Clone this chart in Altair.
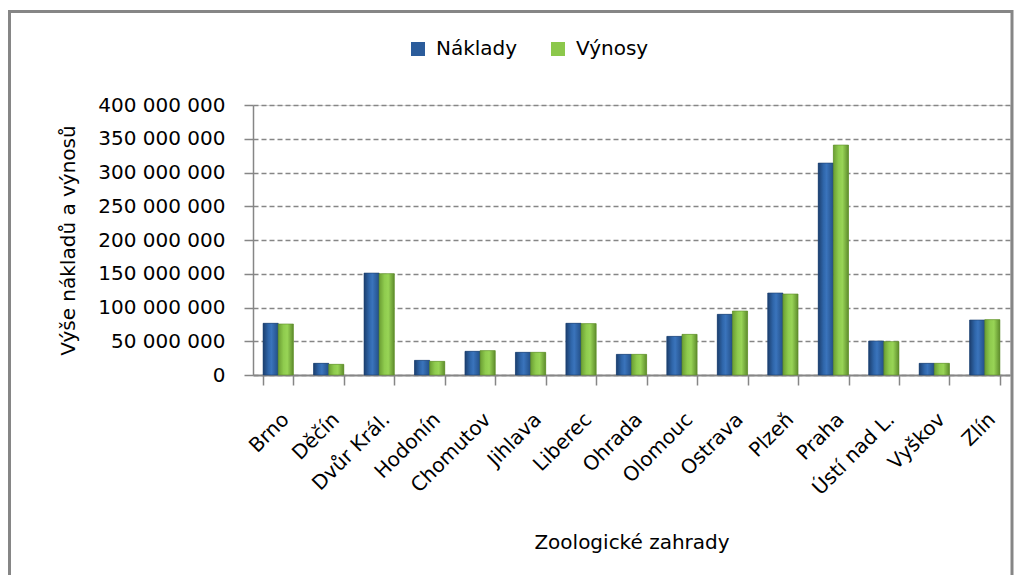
import altair as alt
import pandas as pd

categories = ["Brno", "Děčín", "Dvůr Král.", "Hodonín", "Chomutov", "Jihlava", "Liberec",
              "Ohrada", "Olomouc", "Ostrava", "Plzeň", "Praha", "Ústí nad L.", "Vyškov", "Zlín"]
series = ["Náklady", "Výnosy"]
naklady = [76600000, 17300000, 151000000, 21700000, 35100000, 33600000, 76600000,
           30600000, 57200000, 89900000, 121500000, 314000000, 50400000, 17300000, 81500000]
vynosy = [75600000, 15800000, 150100000, 20200000, 36100000, 33600000, 76100000,
          30600000, 60200000, 94800000, 120000000, 340700000, 49400000, 17300000, 82000000]
y_ticks = [0, 50000000, 100000000, 150000000, 200000000, 250000000, 300000000, 350000000, 400000000]

rows = []
for c, a, b in zip(categories, naklady, vynosy):
    rows.append({"zoo": c, "serie": series[0], "value": a})
    rows.append({"zoo": c, "serie": series[1], "value": b})
df = pd.DataFrame(rows)

FONT = "DejaVu Sans"
GREY = "#868686"
BLUE = "#2B5C9B"
GREEN = "#8CC84B"

x_enc = alt.X(
    "zoo:N",
    sort=categories,
    scale=alt.Scale(domain=categories, paddingInner=0.4, paddingOuter=0.2),
    axis=alt.Axis(
        title="Zoologické zahrady",
        labelAngle=315,
        labelFont=FONT, labelFontSize=20, labelColor="#000000",
        labelPadding=24,
        titleFont=FONT, titleFontSize=20, titleFontWeight="normal", titleColor="#000000",
        titlePadding=34,
        tickBand="extent", tickSize=10, tickColor=GREY, tickWidth=1.5,
        domainColor=GREY, domainWidth=2, grid=False,
    ),
)
xoff_enc = alt.XOffset("serie:N", sort=series,
                       scale=alt.Scale(domain=series, paddingInner=0, paddingOuter=0))
y_enc = alt.Y(
    "value:Q",
    scale=alt.Scale(domain=[0, 400000000], nice=False),
    axis=alt.Axis(
        title="Výše nákladů a výnosů",
        values=y_ticks,
        labelExpr="replace(format(datum.value, ','), /,/g, ' ')",
        labelFont=FONT, labelFontSize=20, labelColor="#000000",
        labelPadding=19,
        titleFont=FONT, titleFontSize=20, titleFontWeight="normal", titleColor="#000000",
        titlePadding=19,
        tickSize=9, tickColor=GREY, tickWidth=1.5,
        domainColor=GREY, domainWidth=1.5,
        grid=True, gridDash=[5, 3], gridColor=GREY, gridWidth=1.3,
    ),
)

base = alt.Chart(df)

solid = base.mark_bar().encode(
    x=x_enc, xOffset=xoff_enc, y=y_enc,
    color=alt.Color(
        "serie:N", sort=series,
        scale=alt.Scale(domain=series, range=[BLUE, GREEN]),
        legend=alt.Legend(
            title=None, orient="none", direction="horizontal",
            legendX=155, legendY=-66,
            labelFont=FONT, labelFontSize=20, labelColor="#000000",
            symbolType="square", symbolSize=196, symbolStrokeWidth=0,
            labelOffset=8, columnPadding=30,
        ),
    ),
)

blue_grad = alt.LinearGradient(
    gradient="linear", x1=0, x2=1, y1=0, y2=0,
    stops=[alt.GradientStop(color="#1C3F6E", offset=0),
           alt.GradientStop(color="#2F66AA", offset=0.35),
           alt.GradientStop(color="#3A74BC", offset=0.55),
           alt.GradientStop(color="#234F88", offset=1)],
)
green_grad = alt.LinearGradient(
    gradient="linear", x1=0, x2=1, y1=0, y2=0,
    stops=[alt.GradientStop(color="#6B9E33", offset=0),
           alt.GradientStop(color="#8FCB4E", offset=0.35),
           alt.GradientStop(color="#98D456", offset=0.6),
           alt.GradientStop(color="#5E8C2C", offset=1)],
)

grad_n = base.transform_filter(alt.datum.serie == series[0]).mark_bar(
    fill=blue_grad, stroke="#1C3F6E", strokeWidth=0.6
).encode(x=x_enc, xOffset=xoff_enc, y=y_enc)
grad_v = base.transform_filter(alt.datum.serie == series[1]).mark_bar(
    fill=green_grad, stroke="#5E8C2C", strokeWidth=0.6
).encode(x=x_enc, xOffset=xoff_enc, y=y_enc)

border = alt.Chart(pd.DataFrame({"k": [0]})).mark_rect(
    filled=False, stroke=GREY, strokeWidth=3
).encode(
    x=alt.value(-243.5), x2=alt.value(759),
    y=alt.value(-93.5), y2=alt.value(485),
)

chart = alt.layer(solid, grad_n, grad_v, border).properties(
    width=757, height=270,
    autosize=alt.AutoSizeParams(type="none"),
    padding={"left": 245, "top": 97, "right": 6, "bottom": 200},
).configure_view(strokeWidth=0).configure(background="#ffffff")

chart.save("out.html", embed_options={"renderer": "svg", "actions": False})
